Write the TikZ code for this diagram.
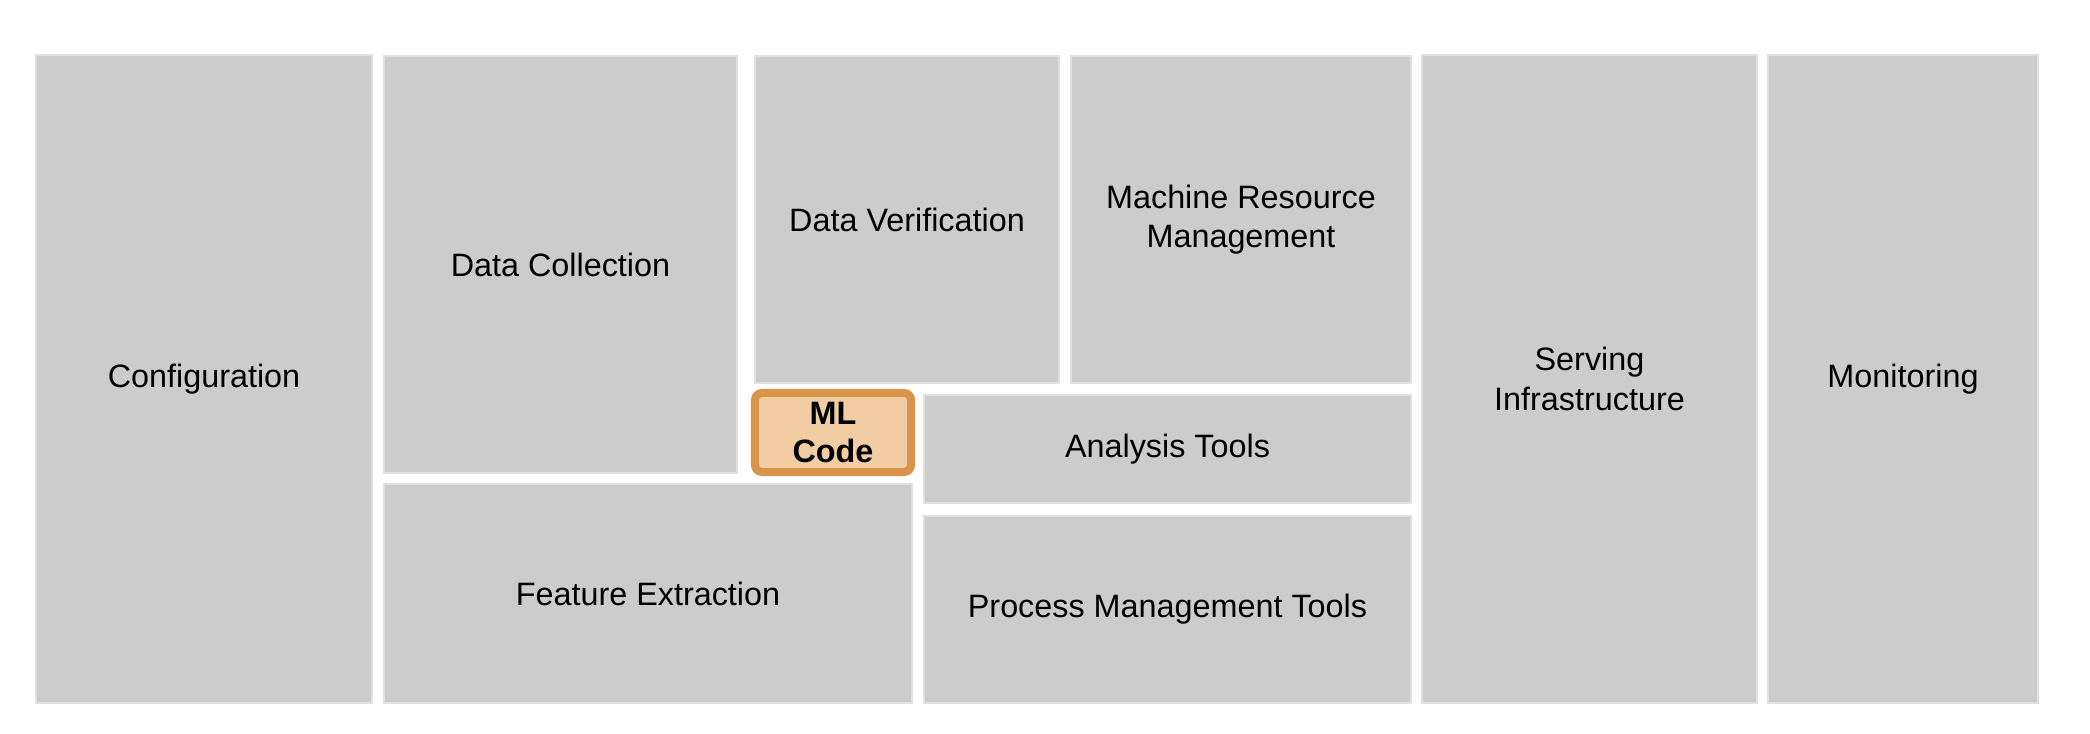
\documentclass[tikz,border=0pt]{standalone}
\usepackage{fontspec}
\setmainfont{Liberation Sans}
\usepackage{xcolor}
\usepackage{tikz}
\usetikzlibrary{positioning}
\definecolor{blockgray}{RGB}{204,204,204}
\definecolor{blockedge}{RGB}{224,224,224}
\definecolor{codefill}{RGB}{242,204,162}
\definecolor{codeedge}{RGB}{217,148,76}

\begin{document}
\begin{tikzpicture}[x=0.01cm, y=-0.01cm,
    block/.style={draw=blockedge, line width=0.4pt, fill=blockgray, inner sep=2pt, outer sep=0pt,
        align=center, font=\fontsize{9.2pt}{11.2pt}\selectfont},
    codeblock/.style={draw=codeedge, line width=0.08cm, fill=codefill, rounded corners=2pt,
        inner sep=0pt, outer sep=0pt, align=center, font=\fontsize{9.2pt}{10.6pt}\selectfont\bfseries}]
    % Page size
    \useasboundingbox (0,0) rectangle (2090,734);

    % Left column
    \node[block, minimum width=3.36cm, minimum height=6.48cm] (config) at (204,379) {Configuration};

    % Upper middle row
    \node[block, minimum width=3.53cm, minimum height=4.17cm] (collect) at (560.5,264.5) {Data Collection};
    \node[block, minimum width=3.04cm, minimum height=3.27cm] (verify) at (907,219.5) {Data Verification};
    \node[block, minimum width=3.40cm, minimum height=3.27cm] (resource) at (1241,219.5) {Machine Resource\\Management};

    % The small box in the middle
    \node[codeblock, minimum width=1.56cm, minimum height=0.79cm] (mlcode) at (833,432.5) {ML\\Code};

    % Lower middle row
    \node[block, minimum width=4.87cm, minimum height=1.08cm] (analysis) at (1167.5,449) {Analysis Tools};
    \node[block, minimum width=5.28cm, minimum height=2.19cm] (extract) at (648,593.5) {Feature Extraction};
    \node[block, minimum width=4.87cm, minimum height=1.87cm] (process) at (1167.5,609.5) {Process Management Tools};

    % Right columns
    \node[block, minimum width=3.35cm, minimum height=6.48cm] (serving) at (1589.5,379) {Serving\\Infrastructure};
    \node[block, minimum width=2.70cm, minimum height=6.48cm] (monitor) at (1903,379) {Monitoring};

\end{tikzpicture}
\end{document}
